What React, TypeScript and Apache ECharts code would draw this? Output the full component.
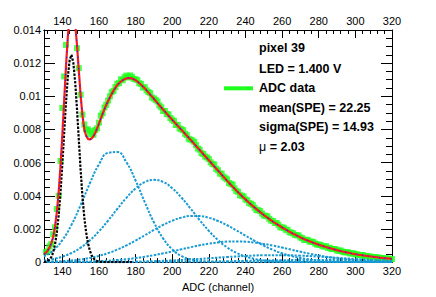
import React, { useEffect, useRef } from "react";
import * as echarts from "echarts";

// ---------- data ----------
// Channels of the histogram bins: TOTAL_FIT starts at channel 130, ADC_DATA at 131, PEDESTAL at 130 (1-channel bins)
const TOTAL_FIRST_CHANNEL = 130;
const DATA_FIRST_CHANNEL = 131;
const PED_FIRST_CHANNEL = 130;

const ADC_DATA = [
  0.0006, 0.00065, 0.00095, 0.0011, 0.00168, 0.0021, 0.0032, 0.004, 0.0061, 0.0093,
  0.0112, 0.0131, 0.0145, 0.0155, 0.0158, 0.0154, 0.0146, 0.0129, 0.0117, 0.0101,
  0.0089, 0.0083, 0.008, 0.008, 0.0077, 0.0079, 0.00768, 0.00796, 0.00807, 0.00841,
  0.00883, 0.00898, 0.00933, 0.00949, 0.00974, 0.01, 0.01025, 0.01033, 0.01056, 0.01076,
  0.0108, 0.01103, 0.01097, 0.01115, 0.01125, 0.01114, 0.01126, 0.01118, 0.01105, 0.01103,
  0.01097, 0.01079, 0.01075, 0.01053, 0.01055, 0.01036, 0.01026, 0.01019, 0.00993, 0.00987,
  0.00978, 0.00969, 0.00945, 0.00934, 0.00912, 0.00912, 0.00893, 0.00891, 0.00869, 0.00859,
  0.00851, 0.00827, 0.00828, 0.00806, 0.00801, 0.00796, 0.00774, 0.00766, 0.00744, 0.00739,
  0.00734, 0.00725, 0.00706, 0.00685, 0.00678, 0.00657, 0.00652, 0.00637, 0.00631, 0.00622,
  0.00602, 0.00592, 0.00588, 0.00562, 0.00554, 0.00534, 0.00533, 0.00515, 0.00506, 0.00499,
  0.00477, 0.00472, 0.00467, 0.00445, 0.00429, 0.00424, 0.00403, 0.00401, 0.00396, 0.00378,
  0.00373, 0.00356, 0.00352, 0.00345, 0.00328, 0.00314, 0.00313, 0.00308, 0.00293, 0.00281,
  0.00279, 0.00276, 0.00261, 0.0025, 0.00248, 0.00236, 0.00236, 0.00225, 0.0021, 0.00209,
  0.00207, 0.00195, 0.00195, 0.0018, 0.00178, 0.00174, 0.00164, 0.00162, 0.00161, 0.00148,
  0.00145, 0.00134, 0.00134, 0.00134, 0.00123, 0.00123, 0.00122, 0.00112, 0.00106, 0.00106,
  0.00104, 0.00096, 0.00094, 0.00096, 0.00086, 0.00086, 0.00078, 0.00079, 0.00079, 0.0007,
  0.00069, 0.0007, 0.00063, 0.00059, 0.0006, 0.00059, 0.00053, 0.00052, 0.00053, 0.00047,
  0.00047, 0.00041, 0.00043, 0.00043, 0.00037, 0.00038, 0.00035, 0.00034, 0.0003, 0.0003,
  0.00031, 0.00027, 0.00027, 0.00025, 0.00022, 0.00024, 0.00021, 0.00021, 0.00018, 0.00018,
];

const TOTAL_FIT = [
  0.00047, 0.00056, 0.00069, 0.00087, 0.00113, 0.00151, 0.00212, 0.003, 0.0042, 0.00576,
  0.00762, 0.00971, 0.01178, 0.01358, 0.01485, 0.01541, 0.01526, 0.01442, 0.01311, 0.01156,
  0.01005, 0.00885, 0.008, 0.00762, 0.00743, 0.00739, 0.00745, 0.0076, 0.0078, 0.00806,
  0.00835, 0.00865, 0.00894, 0.00922, 0.00948, 0.00972, 0.00994, 0.01015, 0.01034, 0.01052,
  0.01068, 0.01079, 0.01089, 0.01097, 0.01104, 0.01108, 0.0111, 0.0111, 0.01108, 0.01103,
  0.01097, 0.01089, 0.0108, 0.0107, 0.01059, 0.01048, 0.01036, 0.01023, 0.0101, 0.00998,
  0.00985, 0.00972, 0.00959, 0.00946, 0.00933, 0.0092, 0.00908, 0.00895, 0.00883, 0.0087,
  0.00858, 0.00846, 0.00834, 0.00822, 0.0081, 0.00798, 0.00786, 0.00774, 0.00762, 0.0075,
  0.00738, 0.00726, 0.00713, 0.00701, 0.00688, 0.00676, 0.00664, 0.00651, 0.00639, 0.00626,
  0.00614, 0.00602, 0.00589, 0.00577, 0.00564, 0.00552, 0.0054, 0.00527, 0.00515, 0.00502,
  0.0049, 0.00478, 0.00467, 0.00455, 0.00444, 0.00432, 0.00421, 0.0041, 0.00399, 0.00388,
  0.00378, 0.00368, 0.00358, 0.00348, 0.00338, 0.00329, 0.0032, 0.00311, 0.00302, 0.00293,
  0.00284, 0.00276, 0.00268, 0.0026, 0.00252, 0.00244, 0.00237, 0.0023, 0.00223, 0.00216,
  0.00209, 0.00203, 0.00196, 0.0019, 0.00183, 0.00177, 0.00171, 0.00166, 0.0016, 0.00155,
  0.00149, 0.00144, 0.00139, 0.00134, 0.0013, 0.00125, 0.00121, 0.00117, 0.00113, 0.00109,
  0.00105, 0.00101, 0.00098, 0.00094, 0.00091, 0.00087, 0.00084, 0.00081, 0.00078, 0.00075,
  0.00072, 0.00069, 0.00067, 0.00064, 0.00062, 0.00059, 0.00057, 0.00055, 0.00052, 0.0005,
  0.00048, 0.00046, 0.00044, 0.00043, 0.00041, 0.00039, 0.00037, 0.00036, 0.00034, 0.00033,
  0.00031, 0.0003, 0.00029, 0.00027, 0.00026, 0.00025, 0.00024, 0.00023, 0.00022, 0.00021,
  0.0002,
];

const PEDESTAL = [
  0.000012, 0.00003, 0.000069, 0.00015, 0.000305, 0.000585, 0.00105, 0.00178, 0.00282, 0.00421,
  0.0059, 0.00777, 0.00961, 0.01117, 0.01219, 0.0125, 0.01204, 0.01089, 0.00926, 0.00739,
  0.00555, 0.00395, 0.0027, 0.0018, 0.00115, 0.0007, 0.0004, 0.00023, 0.00012, 0.00006,
  0.00003, 0.000015, 0.000007, 0.000003, 0.000001, 0, 0, 0, 0, 0,
  0, 0, 0, 0, 0, 0, 0, 0, 0,
];

const CH5 = [
  130, 135, 140, 145, 150, 155, 160, 165, 170, 175, 180, 185, 190, 195, 200, 205, 210, 215, 220, 225,
  230, 235, 240, 245, 250, 255, 260, 265, 270, 275, 280, 285, 290, 295, 300, 305, 310, 315, 320,
];
const CH10 = [130, 140, 150, 160, 170, 180, 190, 200, 210, 220, 230, 240, 250, 260, 270, 280, 290, 300, 310, 320];

const SPE1 = [
  0.000335, 0.000701, 0.001323, 0.002247, 0.00344, 0.004743, 0.00589, 0.006587, 0.006636, 0.00602,
  0.00492, 0.003621, 0.0024, 0.001433, 0.00077, 0.000373, 0.000163, 0.000064, 0.000023, 0.000007,
  0.000002, 0, 0, 0, 0, 0, 0, 0, 0, 0, 0, 0, 0, 0, 0, 0, 0, 0, 0,
];
const SPE2 = [
  0.0000993, 0.000185, 0.000328, 0.000548, 0.00087, 0.001307, 0.00186, 0.002508, 0.003203, 0.003875,
  0.004442, 0.004822, 0.00496, 0.004833, 0.00446, 0.0039, 0.00323, 0.002535, 0.001884, 0.001327,
  0.000885, 0.000559, 0.000335, 0.00019, 0.000102, 0.000052, 0.000025, 0.000011, 0.000005, 0.000002,
  0.000001, 0, 0, 0, 0, 0, 0, 0, 0,
];
const SPE3 = [
  0.0000197, 0.0000353, 0.000061, 0.000102, 0.000163, 0.000253, 0.000377, 0.000543, 0.000753, 0.001008,
  0.001299, 0.001616, 0.001937, 0.00224, 0.002496, 0.002682, 0.002779, 0.002776, 0.002673, 0.002482,
  0.002222, 0.001918, 0.001596, 0.001281, 0.000991, 0.000739, 0.000531, 0.000369, 0.000246, 0.000159,
  0.0000986, 0.0000591, 0.0000342, 0.000019, 0.0000102, 0.0000053, 0.0000026, 0.0000013, 0.0000006,
];
const SPE4 = [
  0.000003, 0.0000053, 0.000009, 0.000015, 0.0000243, 0.0000381, 0.0000583, 0.0000867, 0.000126, 0.000177,
  0.000242, 0.000322, 0.000418, 0.000527, 0.000646, 0.000771, 0.000896, 0.001012, 0.001112, 0.001188,
  0.001236, 0.00125, 0.00123, 0.001178, 0.001097, 0.000994, 0.000876, 0.000751, 0.000627, 0.000509,
  0.000402, 0.000309, 0.000231, 0.000168, 0.000119, 0.0000815, 0.0000545, 0.0000355, 0.0000225,
];
const SPE5 = [
  0.0000003, 0.000001, 0.0000027, 0.0000066, 0.000015, 0.0000308, 0.0000582, 0.0001006, 0.000159, 0.00023,
  0.000305, 0.00037, 0.000411, 0.000418, 0.000389, 0.000331, 0.000258, 0.000184, 0.00012, 0.000072,
];
const SPE6 = [
  0, 0.0000001, 0.0000003, 0.0000007, 0.0000016, 0.0000035, 0.0000069, 0.0000129, 0.0000223, 0.0000358,
  0.0000534, 0.0000739, 0.0000951, 0.0001136, 0.0001261, 0.00013, 0.0001244, 0.0001106, 0.0000914, 0.00007,
];

const X_MAJOR = [140, 160, 180, 200, 220, 240, 260, 280, 300, 320];
const X_MINOR = [
  132, 136, 144, 148, 152, 156, 164, 168, 172, 176, 184, 188, 192, 196, 204, 208, 212, 216,
  224, 228, 232, 236, 244, 248, 252, 256, 264, 268, 272, 276, 284, 288, 292, 296, 304, 308, 312, 316,
];

const INFO_LINES = ["pixel 39", "LED = 1.400 V", "ADC data", "mean(SPE) = 22.25", "sigma(SPE) = 14.93"];
const MU_TEXT = "2.03";

const FONT = "'Liberation Sans', Arial, Helvetica, sans-serif";

export default function App() {
  const ref = useRef<HTMLDivElement>(null);

  useEffect(() => {
    if (!ref.current) return;
    const chart = echarts.init(ref.current, null, { renderer: "svg" });

    const fromFirst = (first: number, vals: number[]) => vals.map((v, i) => [first + i, v]);
    const zip = (xs: number[], ys: number[]) => xs.map((x, i) => [x, ys[i]]);

    const compStyle = { color: "#189bd3", width: 2, type: [2.4, 1.4] as number[] };
    const comp = (name: string, xs: number[], ys: number[]) => ({
      name,
      type: "line",
      data: zip(xs, ys),
      showSymbol: false,
      symbol: "none",
      smooth: true,
      lineStyle: compStyle,
      silent: true,
      z: 3,
    });

    const axisBase = {
      type: "value",
      min: 130,
      max: 320,
      splitLine: { show: false },
      axisLine: { show: true, onZero: false, lineStyle: { color: "#000", width: 1 } },
    };

    const yBase = {
      type: "value",
      min: 0,
      max: 0.014,
      interval: 0.002,
      splitLine: { show: false },
      minorSplitLine: { show: false },
      axisLine: { show: true, lineStyle: { color: "#000", width: 1 } },
      axisTick: { show: true, inside: true, length: 11, lineStyle: { color: "#000" } },
      minorTick: { show: true, splitNumber: 4, length: 6, lineStyle: { color: "#000" } },
    };

    const labelStyle = { color: "#000", fontSize: 11, fontFamily: FONT };

    const lineY = [47.7, 69.3, 88.3, 107.7, 126.7];
    const graphics: any[] = INFO_LINES.map((t, i) => ({
      type: "text",
      x: 259,
      y: lineY[i],
      style: {
        text: t,
        fill: "#000",
        fontSize: 12.5,
        fontWeight: "bold",
        fontFamily: FONT,
        verticalAlign: "middle",
      },
      silent: true,
    }));
    graphics.push({
      type: "text",
      x: 259,
      y: 146.7,
      style: {
        text: "{m|μ}{b| = " + MU_TEXT + "}",
        verticalAlign: "middle",
        rich: {
          m: { fontSize: 12.5, fontWeight: "normal", fontFamily: FONT, fill: "#000" },
          b: { fontSize: 12.5, fontWeight: "bold", fontFamily: FONT, fill: "#000" },
        },
      },
      silent: true,
    });
    graphics.push({
      type: "line",
      shape: { x1: 224, y1: 88.3, x2: 253, y2: 88.3 },
      style: { stroke: "#1eff1e", lineWidth: 4 },
      silent: true,
    });

    chart.setOption({
      animation: false,
      backgroundColor: "#fff",
      grid: { left: 44, right: 44, top: 30, bottom: 30.5, containLabel: false },
      xAxis: [
        {
          ...axisBase,
          position: "bottom",
          name: "ADC (channel)",
          nameLocation: "middle",
          nameGap: 13.5,
          nameTextStyle: { ...labelStyle },
          axisTick: { show: true, inside: true, length: 8, customValues: X_MAJOR, lineStyle: { color: "#000" } },
          axisLabel: { show: true, margin: 3, customValues: X_MAJOR, ...labelStyle },
        },
        {
          ...axisBase,
          position: "bottom",
          axisTick: { show: true, inside: true, length: 4, customValues: X_MINOR, lineStyle: { color: "#000" } },
          axisLabel: { show: false },
        },
        {
          ...axisBase,
          position: "top",
          axisTick: { show: true, inside: true, length: 8, customValues: X_MAJOR, lineStyle: { color: "#000" } },
          axisLabel: { show: true, margin: 4, customValues: X_MAJOR, ...labelStyle },
        },
        {
          ...axisBase,
          position: "top",
          axisTick: { show: true, inside: true, length: 4, customValues: X_MINOR, lineStyle: { color: "#000" } },
          axisLabel: { show: false },
        },
      ],
      yAxis: [
        {
          ...yBase,
          position: "left",
          axisLabel: {
            show: true,
            margin: 3,
            ...labelStyle,
            formatter: (v: number) => (v === 0 ? "0" : String(parseFloat(v.toFixed(4)))),
          },
        },
        {
          ...yBase,
          position: "right",
          axisLabel: { show: false },
        },
      ],
      series: [
        {
          name: "ADC data",
          type: "scatter",
          data: fromFirst(DATA_FIRST_CHANNEL, ADC_DATA),
          symbol: "rect",
          symbolSize: 6,
          itemStyle: { color: "#1eff1e" },
          silent: true,
          clip: true,
          z: 1,
        },
        comp("SPE1", CH5, SPE1),
        comp("SPE2", CH5, SPE2),
        comp("SPE3", CH5, SPE3),
        comp("SPE4", CH5, SPE4),
        comp("SPE5", CH10, SPE5),
        comp("SPE6", CH10, SPE6),
        {
          name: "pedestal",
          type: "line",
          data: fromFirst(PED_FIRST_CHANNEL, PEDESTAL),
          showSymbol: false,
          symbol: "none",
          lineStyle: { color: "#000", width: 2.2, type: [2.4, 1.4] },
          silent: true,
          z: 4,
        },
        {
          name: "fit",
          type: "line",
          data: fromFirst(TOTAL_FIRST_CHANNEL, TOTAL_FIT),
          showSymbol: false,
          symbol: "none",
          lineStyle: { color: "#ff1a1a", width: 2.2 },
          silent: true,
          z: 5,
        },
        {
          name: "fit-overlay",
          type: "line",
          data: fromFirst(TOTAL_FIRST_CHANNEL, TOTAL_FIT),
          showSymbol: false,
          symbol: "none",
          lineStyle: { color: "#2020ff", width: 1.2, type: [1.2, 4.5] },
          silent: true,
          z: 6,
        },
      ],
      graphic: graphics,
    });

    return () => chart.dispose();
  }, []);

  return (
    <div
      ref={ref}
      style={{ position: "fixed", left: 0, top: 0, width: 436, height: 297, background: "#fff" }}
    />
  );
}
